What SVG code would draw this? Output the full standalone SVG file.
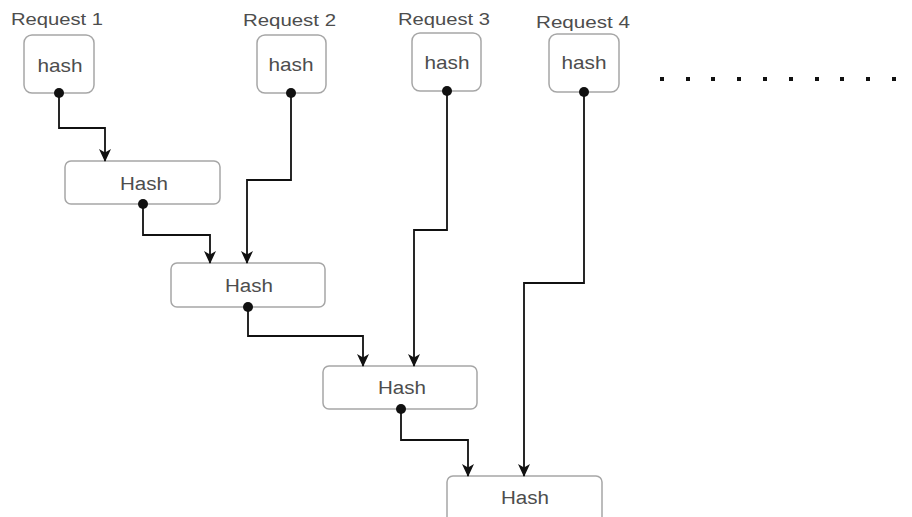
<svg xmlns="http://www.w3.org/2000/svg" width="912" height="517" viewBox="0 0 912 517">
<defs>
<style>
.box{fill:#ffffff;stroke:#a6a6a6;stroke-width:1.5}
.lbl{font-family:"Liberation Sans",Arial,sans-serif;fill:#4d4d4d}
.req{font-size:17px}
.h{font-size:19px}
.H{font-size:18px}
.edge{fill:none;stroke:#111111;stroke-width:1.8}
.dot{fill:#111111}
</style>
<marker id="arr" markerWidth="13" markerHeight="13" viewBox="0 0 13 13" refX="12" refY="6.5" orient="auto" markerUnits="userSpaceOnUse">
<path d="M0,0.5 L13,6.5 L0,12.5 L3.5,6.5 Z" fill="#111111"/>
</marker>
</defs>
<rect width="912" height="517" fill="#ffffff"/>
<g id="labels">
<text class="lbl req" x="11" y="25" textLength="92" lengthAdjust="spacingAndGlyphs">Request 1</text>
<text class="lbl req" x="243" y="26" textLength="93" lengthAdjust="spacingAndGlyphs">Request 2</text>
<text class="lbl req" x="398" y="25" textLength="92" lengthAdjust="spacingAndGlyphs">Request 3</text>
<text class="lbl req" x="536" y="28" textLength="94" lengthAdjust="spacingAndGlyphs">Request 4</text>
</g>
<g id="req1">
<rect class="box" x="24" y="35" width="70" height="58" rx="8"/>
<text class="lbl h" x="60" y="72" text-anchor="middle" textLength="45" lengthAdjust="spacingAndGlyphs">hash</text>
</g>
<g id="req2">
<rect class="box" x="257" y="35" width="69" height="58" rx="8"/>
<text class="lbl h" x="291" y="71" text-anchor="middle" textLength="45" lengthAdjust="spacingAndGlyphs">hash</text>
</g>
<g id="req3">
<rect class="box" x="412" y="33" width="69" height="58" rx="8"/>
<text class="lbl h" x="447" y="69" text-anchor="middle" textLength="45" lengthAdjust="spacingAndGlyphs">hash</text>
</g>
<g id="req4">
<rect class="box" x="549" y="34" width="70" height="58" rx="8"/>
<text class="lbl h" x="584" y="69" text-anchor="middle" textLength="45" lengthAdjust="spacingAndGlyphs">hash</text>
</g>
<g id="hash1">
<rect class="box" x="65" y="161" width="155" height="43" rx="6"/>
<text class="lbl H" x="144" y="190" text-anchor="middle" textLength="48" lengthAdjust="spacingAndGlyphs">Hash</text>
</g>
<g id="hash2">
<rect class="box" x="171" y="263" width="154" height="44" rx="6"/>
<text class="lbl H" x="249" y="292" text-anchor="middle" textLength="48" lengthAdjust="spacingAndGlyphs">Hash</text>
</g>
<g id="hash3">
<rect class="box" x="323" y="366" width="154" height="43" rx="6"/>
<text class="lbl H" x="402" y="394" text-anchor="middle" textLength="48" lengthAdjust="spacingAndGlyphs">Hash</text>
</g>
<g id="hash4">
<rect class="box" x="447" y="476" width="155" height="50" rx="6"/>
<text class="lbl H" x="525" y="504" text-anchor="middle" textLength="48" lengthAdjust="spacingAndGlyphs">Hash</text>
</g>
<g id="connectors">
<path class="edge" d="M59,93 V128 H105 V161" marker-end="url(#arr)"/>
<path class="edge" d="M291,93 V180 H247 V263" marker-end="url(#arr)"/>
<path class="edge" d="M143,204 V235 H210 V263" marker-end="url(#arr)"/>
<path class="edge" d="M447,91 V230 H414 V366" marker-end="url(#arr)"/>
<path class="edge" d="M248,307 V336 H363 V366" marker-end="url(#arr)"/>
<path class="edge" d="M584,92 V283 H524 V476" marker-end="url(#arr)"/>
<path class="edge" d="M401,409 V440 H468 V476" marker-end="url(#arr)"/>
<circle class="dot" cx="59" cy="93" r="5"/>
<circle class="dot" cx="291" cy="93" r="5"/>
<circle class="dot" cx="447" cy="91" r="5"/>
<circle class="dot" cx="584" cy="92" r="5"/>
<circle class="dot" cx="143" cy="204" r="5"/>
<circle class="dot" cx="248" cy="307" r="5"/>
<circle class="dot" cx="401" cy="409" r="5"/>
</g>
<g id="ellipsis" fill="#111111">
<rect x="660" y="77" width="4" height="4"/>
<rect x="686" y="77" width="4" height="4"/>
<rect x="711" y="77" width="4" height="4"/>
<rect x="737" y="77" width="4" height="4"/>
<rect x="763" y="77" width="4" height="4"/>
<rect x="789" y="77" width="4" height="4"/>
<rect x="815" y="77" width="4" height="4"/>
<rect x="840" y="77" width="4" height="4"/>
<rect x="866" y="77" width="4" height="4"/>
<rect x="892" y="77" width="4" height="4"/>
</g>
</svg>
